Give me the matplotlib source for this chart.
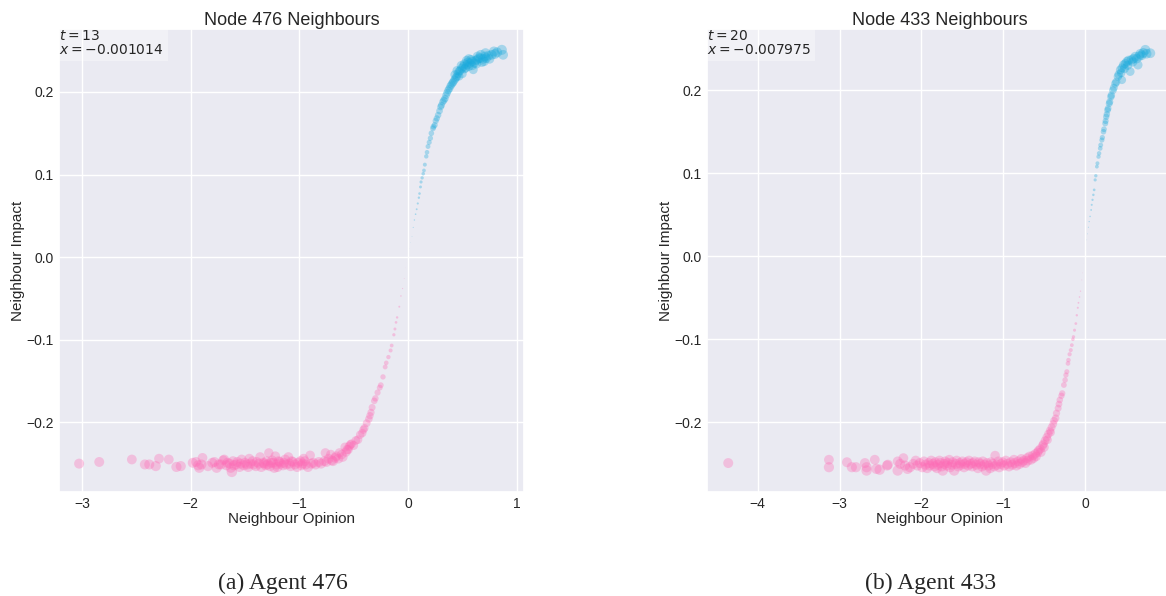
import numpy as np
import seaborn as sns
from matplotlib import pyplot as plt
from matplotlib.ticker import MultipleLocator

# neighbour (opinion, impact) pairs
nodes = [476, 433]
steps = [13, 20]
node_x = [-0.001014, -0.007975]
captions = ["(a) Agent 476", "(b) Agent 433"]

neigh_476 = [
    (-3.025, -0.250), (-2.84, -0.248), (-2.54, -0.245), (-2.42, -0.251), (-2.38, -0.251),
    (-2.32, -0.253), (-2.29, -0.244), (-2.20, -0.245), (-2.13, -0.254), (-2.09, -0.253),
    (-1.98, -0.249), (-1.95, -0.248), (-1.92, -0.255), (-1.90, -0.251), (-1.89, -0.243),
    (-1.93, -0.252),
    (-1.84, -0.253), (-1.80, -0.249), (-1.78, -0.248), (-1.76, -0.255), (-1.74, -0.251),
    (-1.72, -0.251), (-1.70, -0.246), (-1.69, -0.245), (-1.67, -0.252), (-1.66, -0.249),
    (-1.64, -0.250), (-1.63, -0.255), (-1.62, -0.260), (-1.61, -0.247), (-1.60, -0.252),
    (-1.58, -0.251), (-1.57, -0.248), (-1.55, -0.254), (-1.54, -0.250), (-1.53, -0.245),
    (-1.51, -0.252), (-1.50, -0.249), (-1.48, -0.251), (-1.47, -0.254), (-1.46, -0.244),
    (-1.45, -0.250), (-1.43, -0.247), (-1.42, -0.251), (-1.40, -0.253), (-1.39, -0.248),
    (-1.37, -0.250), (-1.36, -0.242), (-1.35, -0.254), (-1.33, -0.249), (-1.32, -0.250),
    (-1.31, -0.252), (-1.30, -0.247), (-1.29, -0.251), (-1.28, -0.237), (-1.27, -0.253),
    (-1.26, -0.249), (-1.25, -0.246), (-1.24, -0.249), (-1.23, -0.255), (-1.22, -0.241),
    (-1.21, -0.251), (-1.20, -0.254), (-1.19, -0.247), (-1.18, -0.248), (-1.17, -0.250),
    (-1.15, -0.252), (-1.14, -0.249), (-1.13, -0.245), (-1.12, -0.251), (-1.10, -0.242),
    (-1.09, -0.250), (-1.08, -0.253), (-1.07, -0.247), (-1.06, -0.248), (-1.04, -0.251),
    (-1.02, -0.254), (-1.01, -0.249), (-0.99, -0.247), (-0.98, -0.252), (-0.97, -0.250),
    (-0.96, -0.244), (-0.95, -0.247), (-0.94, -0.251), (-0.92, -0.254), (-0.90, -0.240),
    (-0.89, -0.250), (-0.87, -0.249), (-0.85, -0.251), (-0.82, -0.248), (-0.80, -0.250),
    (-0.77, -0.247), (-0.76, -0.237), (-0.75, -0.248), (-0.73, -0.244), (-0.71, -0.239),
    (-0.70, -0.246), (-0.69, -0.247), (-0.67, -0.243), (-0.66, -0.241), (-0.64, -0.244),
    (-0.63, -0.237), (-0.61, -0.239), (-0.60, -0.242), (-0.58, -0.230), (-0.57, -0.236),
    (-0.56, -0.233), (-0.55, -0.233), (-0.54, -0.229), (-0.53, -0.227), (-0.52, -0.226),
    (-0.50, -0.228), (-0.48, -0.222), (-0.46, -0.221), (-0.44, -0.215), (-0.42, -0.213),
    (-0.41, -0.209), (-0.40, -0.207), (-0.38, -0.201), (-0.36, -0.196), (-0.35, -0.192),
    (-0.34, -0.188), (-0.33, -0.182), (-0.31, -0.174), (-0.30, -0.171), (-0.28, -0.164),
    (-0.26, -0.158), (-0.25, -0.155), (-0.23, -0.145), (-0.21, -0.133), (-0.20, -0.128),
    (-0.18, -0.121), (-0.16, -0.113), (-0.15, -0.107), (-0.13, -0.094), (-0.12, -0.087),
    (-0.11, -0.079), (-0.10, -0.073), (-0.08, -0.060), (-0.065, -0.047), (-0.05, -0.038),
    (-0.035, -0.026), (-0.02, -0.013), (-0.01, -0.006),
    (0.005, 0.004), (0.012, 0.0105), (0.025, 0.018), (0.037, 0.025), (0.048, 0.036),
    (0.059, 0.045), (0.07, 0.052), (0.08, 0.058), (0.09, 0.065), (0.10, 0.072),
    (0.106, 0.077), (0.115, 0.085), (0.12, 0.091), (0.13, 0.096), (0.14, 0.101),
    (0.147, 0.105), (0.155, 0.112), (0.168, 0.122), (0.175, 0.127), (0.184, 0.134),
    (0.195, 0.139), (0.206, 0.144), (0.215, 0.150), (0.23, 0.156), (0.235, 0.158),
    (0.246, 0.160), (0.255, 0.165), (0.265, 0.168), (0.277, 0.172), (0.29, 0.177),
    (0.30, 0.182), (0.308, 0.184), (0.32, 0.188), (0.33, 0.190), (0.34, 0.192),
    (0.35, 0.196), (0.36, 0.199), (0.37, 0.202), (0.38, 0.204), (0.39, 0.207),
    (0.40, 0.209), (0.41, 0.211), (0.418, 0.2125), (0.43, 0.215), (0.44, 0.217),
    (0.449, 0.2186), (0.46, 0.222), (0.47, 0.225), (0.48, 0.226), (0.495, 0.2287),
    (0.50, 0.222), (0.51, 0.231), (0.52, 0.234), (0.53, 0.229), (0.542, 0.233),
    (0.55, 0.236), (0.56, 0.231), (0.57, 0.235), (0.58, 0.239), (0.589, 0.237),
    (0.60, 0.227), (0.61, 0.235), (0.62, 0.238), (0.636, 0.239), (0.65, 0.241),
    (0.666, 0.241), (0.68, 0.236), (0.70, 0.237), (0.713, 0.247), (0.72, 0.241),
    (0.74, 0.244), (0.79, 0.249), (0.80, 0.246), (0.863, 0.251), (0.875, 0.245),
    (0.43, 0.221), (0.45, 0.226), (0.47, 0.219), (0.49, 0.232), (0.52, 0.228),
    (0.54, 0.238), (0.56, 0.240), (0.59, 0.232), (0.63, 0.234), (0.64, 0.243),
    (0.67, 0.245), (0.69, 0.240), (0.71, 0.243), (0.75, 0.240), (0.77, 0.245),
    (0.82, 0.248),
]

neigh_433 = [
    (-4.36, -0.249), (-3.13, -0.245), (-3.13, -0.254), (-2.91, -0.248), (-2.85, -0.254),
    (-2.80, -0.254), (-2.69, -0.249), (-2.67, -0.254), (-2.67, -0.258), (-2.57, -0.245),
    (-2.55, -0.256), (-2.51, -0.257), (-2.41, -0.251), (-2.42, -0.252), (-2.29, -0.258),
    (-2.29, -0.247), (-2.26, -0.250), (-2.22, -0.243), (-2.20, -0.252), (-2.17, -0.256),
    (-2.14, -0.254), (-2.10, -0.250), (-2.07, -0.246),
    (-2.05, -0.252), (-2.02, -0.249), (-1.99, -0.254), (-1.97, -0.247), (-1.95, -0.251),
    (-1.93, -0.255), (-1.91, -0.249), (-1.90, -0.252), (-1.88, -0.246), (-1.86, -0.250),
    (-1.84, -0.253), (-1.83, -0.248), (-1.81, -0.255), (-1.80, -0.251), (-1.78, -0.246),
    (-1.77, -0.249), (-1.75, -0.253), (-1.74, -0.258), (-1.72, -0.250), (-1.71, -0.247),
    (-1.69, -0.252), (-1.68, -0.249), (-1.66, -0.245), (-1.65, -0.254), (-1.63, -0.251),
    (-1.62, -0.248), (-1.60, -0.258), (-1.58, -0.250), (-1.57, -0.246), (-1.55, -0.253),
    (-1.53, -0.249), (-1.52, -0.251), (-1.50, -0.247), (-1.48, -0.254), (-1.47, -0.250),
    (-1.45, -0.248), (-1.43, -0.252), (-1.42, -0.246), (-1.40, -0.250), (-1.38, -0.253),
    (-1.37, -0.249), (-1.35, -0.247), (-1.33, -0.251), (-1.31, -0.255), (-1.30, -0.248),
    (-1.28, -0.250), (-1.26, -0.253), (-1.25, -0.247), (-1.23, -0.251), (-1.21, -0.258),
    (-1.20, -0.249), (-1.18, -0.252), (-1.16, -0.255), (-1.15, -0.248), (-1.13, -0.250),
    (-1.11, -0.253), (-1.10, -0.240), (-1.08, -0.251), (-1.06, -0.247), (-1.05, -0.254),
    (-1.03, -0.250), (-1.01, -0.248), (-0.99, -0.252), (-0.97, -0.246), (-0.95, -0.250),
    (-0.93, -0.253), (-0.91, -0.248), (-0.89, -0.251), (-0.87, -0.245), (-0.86, -0.249),
    (-0.84, -0.252), (-0.82, -0.247), (-0.80, -0.250), (-0.78, -0.244), (-0.77, -0.248),
    (-0.75, -0.246), (-0.73, -0.249), (-0.71, -0.243), (-0.70, -0.246), (-0.68, -0.241),
    (-0.66, -0.245), (-0.64, -0.240), (-0.63, -0.243), (-0.61, -0.238), (-0.60, -0.241),
    (-0.58, -0.236), (-0.57, -0.234), (-0.55, -0.232), (-0.54, -0.236), (-0.52, -0.228),
    (-0.51, -0.226), (-0.50, -0.230), (-0.49, -0.222), (-0.47, -0.218), (-0.46, -0.221),
    (-0.45, -0.214), (-0.43, -0.210), (-0.42, -0.212), (-0.41, -0.206), (-0.39, -0.202),
    (-0.38, -0.198), (-0.36, -0.195), (-0.35, -0.189), (-0.33, -0.183), (-0.32, -0.178),
    (-0.31, -0.173), (-0.29, -0.168), (-0.28, -0.165), (-0.26, -0.155), (-0.245, -0.149),
    (-0.235, -0.143), (-0.224, -0.139), (-0.21, -0.129), (-0.204, -0.125), (-0.19, -0.118),
    (-0.176, -0.113), (-0.163, -0.107), (-0.15, -0.100), (-0.143, -0.097), (-0.13, -0.089),
    (-0.114, -0.081), (-0.102, -0.071), (-0.09, -0.062), (-0.082, -0.056), (-0.069, -0.049),
    (-0.057, -0.042), (-0.041, -0.0285), (-0.03, -0.020), (-0.016, -0.0084),
    (0.008, 0.007), (0.02, 0.0197), (0.03, 0.027), (0.04, 0.035), (0.049, 0.0418),
    (0.06, 0.048), (0.073, 0.0558), (0.08, 0.062), (0.09, 0.068), (0.10, 0.074),
    (0.11, 0.080), (0.122, 0.092), (0.13, 0.097), (0.143, 0.108), (0.15, 0.112),
    (0.163, 0.120), (0.17, 0.124), (0.184, 0.130), (0.19, 0.134), (0.204, 0.140),
    (0.21, 0.143), (0.224, 0.150), (0.23, 0.153), (0.245, 0.160), (0.25, 0.163),
    (0.257, 0.168), (0.265, 0.171), (0.273, 0.176), (0.28, 0.178), (0.294, 0.184),
    (0.30, 0.186), (0.314, 0.192), (0.32, 0.194), (0.339, 0.200), (0.35, 0.203),
    (0.367, 0.208), (0.38, 0.210), (0.40, 0.2165), (0.41, 0.219), (0.429, 0.2245),
    (0.44, 0.221), (0.449, 0.2124), (0.45, 0.227), (0.469, 0.2305), (0.48, 0.226),
    (0.49, 0.232), (0.51, 0.2345), (0.52, 0.230), (0.53, 0.236), (0.55, 0.2225),
    (0.563, 0.2365), (0.58, 0.234), (0.59, 0.238), (0.612, 0.2405), (0.63, 0.238),
    (0.645, 0.2305), (0.66, 0.241), (0.673, 0.2438), (0.69, 0.242), (0.71, 0.245),
    (0.735, 0.2486), (0.75, 0.244), (0.796, 0.2446),
]

sns.set_theme(style="darkgrid")
plt.rcParams['font.family'] = ['Liberation Sans', 'DejaVu Sans']

fig = plt.figure(figsize=(11.66, 5.96), dpi=100)
ax1 = fig.add_axes([0.0506, 0.175, 0.3988, 0.776])
ax2 = fig.add_axes([0.6063, 0.175, 0.3988, 0.776])

limits = [((-3.21, 1.067), (-0.284, 0.276)), ((-4.62, 1.06), (-0.2835, 0.2735))]
xticks = [[-3, -2, -1, 0, 1], [-4, -3, -2, -1, 0]]
cap_x = [0.243, 0.798]

for ax, data, node, t, xv, cap, lim, xt, cx in zip([ax1, ax2], [neigh_476, neigh_433], nodes, steps,
                                                  node_x, captions, limits, xticks, cap_x):
    op, imp = np.array(data).T
    cols = np.where(imp > 0, '#19aadc', '#ff69b4')
    ax.scatter(op, imp, s=1260 * np.abs(imp) ** 2.3, c=cols, alpha=0.33, linewidths=0)
    ax.set_xlim(*lim[0])
    ax.set_ylim(*lim[1])
    ax.set_xticks(xt)
    ax.yaxis.set_major_locator(MultipleLocator(0.1))
    ax.set_title(f"Node {node} Neighbours", fontsize=13, pad=3)
    ax.set_xlabel("Neighbour Opinion", fontsize=11, labelpad=0.5)
    ax.set_ylabel("Neighbour Impact", fontsize=11, labelpad=0.5)
    ax.tick_params(labelsize=10, length=0, pad=4)
    ax.text(0.0, 1.0, f"$t = {t}$\n$x = {xv}$", transform=ax.transAxes, ha='left', va='top',
            fontsize=10, linespacing=1.0,
            bbox=dict(facecolor='white', alpha=0.35, edgecolor='none', pad=3))
    fig.text(cx, 1 - 583 / 596, cap, ha='center', va='center', fontsize=17,
             family='Liberation Serif')

plt.savefig("out.png", dpi=100)
